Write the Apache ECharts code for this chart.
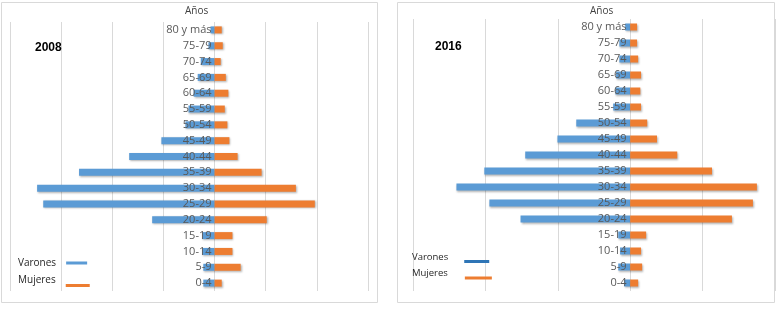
<!DOCTYPE html>
<html>
<head>
<meta charset="utf-8">
<script src="https://cdn.jsdelivr.net/npm/echarts@6/dist/echarts.min.js"></script>
<style>
html,body{margin:0;padding:0;background:#fff;}
#main{width:779px;height:312px;}
</style>
</head>
<body>
<div id="main"></div>
<script>
// grupos de edad, de abajo hacia arriba
var ages = ['0-4','5-9','10-14','15-19','20-24','25-29','30-34','35-39','40-44','45-49','50-54','55-59','60-64','65-69','70-74','75-79','80 y más'];
var varones2008 = [2.2,2.2,2.4,2.4,12.2,33.5,34.7,26.5,16.7,10.4,5.7,5.1,4.1,3.3,2.7,1.2,0.8];
var mujeres2008 = [1.4,5.1,3.5,3.5,10.2,19.6,15.9,9.2,4.5,2.9,2.5,2.0,2.7,2.2,1.2,1.6,1.4];
var varones2016 = [1.7,3.3,2.8,3.3,30.3,38.9,48.0,40.3,29.0,20.1,14.9,4.7,4.1,3.9,3.0,3.0,1.4];
var mujeres2016 = [2.2,3.3,3.0,4.4,28.1,33.9,35.0,22.6,13.0,7.4,4.7,3.0,2.8,3.0,2.2,1.9,1.9];

var azul = '#5b9bd5';
var naranja = '#ed7d31';
var fuente = '"Open Sans", sans-serif';

function neg(arr) {
    var r = [];
    for (var i = 0; i < arr.length; i++) r[i] = -arr[i];
    return r;
}
function eje(grid, min, max, interval) {
    return {
        type: 'value', gridIndex: grid, min: min, max: max, interval: interval,
        axisLabel: {show: false}, axisTick: {show: false}, axisLine: {show: false},
        splitLine: {lineStyle: {color: '#d9d9d9', width: 1}}
    };
}
// el eje de edades se pone en el cero con offset negativo
function ejeEdad(grid, offset) {
    return {
        type: 'category', gridIndex: grid, data: ages, z: 5, position: 'left', offset: offset,
        axisLine: {show: false, onZero: false}, axisTick: {show: false},
        axisLabel: {color: '#595959', fontSize: 11, fontFamily: fuente, margin: 3}
    };
}
function barra(name, grid, data, color) {
    return {
        name: name, type: 'bar', xAxisIndex: grid, yAxisIndex: grid,
        data: data, barWidth: 7, barGap: '-100%',
        itemStyle: {color: color, shadowBlur: 2, shadowColor: 'rgba(0,0,0,0.3)', shadowOffsetX: 1, shadowOffsetY: 1}
    };
}
// leyenda estilo excel: texto y luego la linea (a veces un poco mas baja)
function linea(w, h) {
    return {w: w, h: h, path: 'path://M0,0L0,0M0,' + (h - 3) + 'L' + w + ',' + (h - 3) + 'L' + w + ',' + h + 'L0,' + h + 'Z'};
}
function leyenda(name, left, top, size, gap, icon, color) {
    return {
        orient: 'vertical', left: left, top: top, align: 'right', padding: 0,
        itemWidth: icon.w, itemHeight: icon.h, icon: icon.path,
        textStyle: {fontSize: size, color: '#262626', fontFamily: fuente, padding: [0, gap, 0, 0]},
        data: [{name: name, itemStyle: {color: color, shadowBlur: 0}}]
    };
}

var myChart = echarts.init(document.getElementById('main'));
var option = {
    animation: false,
    grid: [
        {left: 10, right: 411, top: 22, bottom: 21, outerBoundsMode: 'none'},
        {left: 413, right: 4, top: 19, bottom: 21, outerBoundsMode: 'none'}
    ],
    xAxis: [eje(0, -40, 30, 10), eje(1, -60, 40, 20)],
    yAxis: [ejeEdad(0, -204.5), ejeEdad(1, -216.5)],
    title: [
        {text: 'Años', left: 185, top: 6, padding: 0, textStyle: {fontSize: 10, fontWeight: 'normal', color: '#404040', fontFamily: fuente}},
        {text: 'Años', left: 590, top: 6, padding: 0, textStyle: {fontSize: 10, fontWeight: 'normal', color: '#404040', fontFamily: fuente}},
        {text: '2008', left: 35, top: 42, padding: 0, textStyle: {fontSize: 12, fontWeight: 'bold', color: '#000', fontFamily: '"Liberation Sans", Arial'}},
        {text: '2016', left: 435, top: 41, padding: 0, textStyle: {fontSize: 12, fontWeight: 'bold', color: '#000', fontFamily: '"Liberation Sans", Arial'}}
    ],
    legend: [
        leyenda('Varones', 18, 258, 10, 5, {w: 21, h: 3, path: 'rect'}, azul),
        leyenda('Mujeres', 18, 273, 10, 5, linea(24, 14), naranja),
        leyenda('Varones', 412, 252, 9.5, 11, linea(25, 11), '#2e75b6'),
        leyenda('Mujeres', 412, 266.5, 9.5, 12, linea(27, 13), naranja)
    ],
    graphic: [
        {type: 'rect', shape: {x: 1.5, y: 2.5, width: 376, height: 300}, style: {fill: 'none', stroke: '#d9d9d9', lineWidth: 1}, silent: true},
        {type: 'rect', shape: {x: 397.5, y: 2.5, width: 377, height: 300}, style: {fill: 'none', stroke: '#d9d9d9', lineWidth: 1}, silent: true}
    ],
    series: [
        barra('Varones', 0, neg(varones2008), azul),
        barra('Mujeres', 0, mujeres2008, naranja),
        barra('Varones', 1, neg(varones2016), azul),
        barra('Mujeres', 1, mujeres2016, naranja)
    ]
};
myChart.setOption(option);
</script>
</body>
</html>
